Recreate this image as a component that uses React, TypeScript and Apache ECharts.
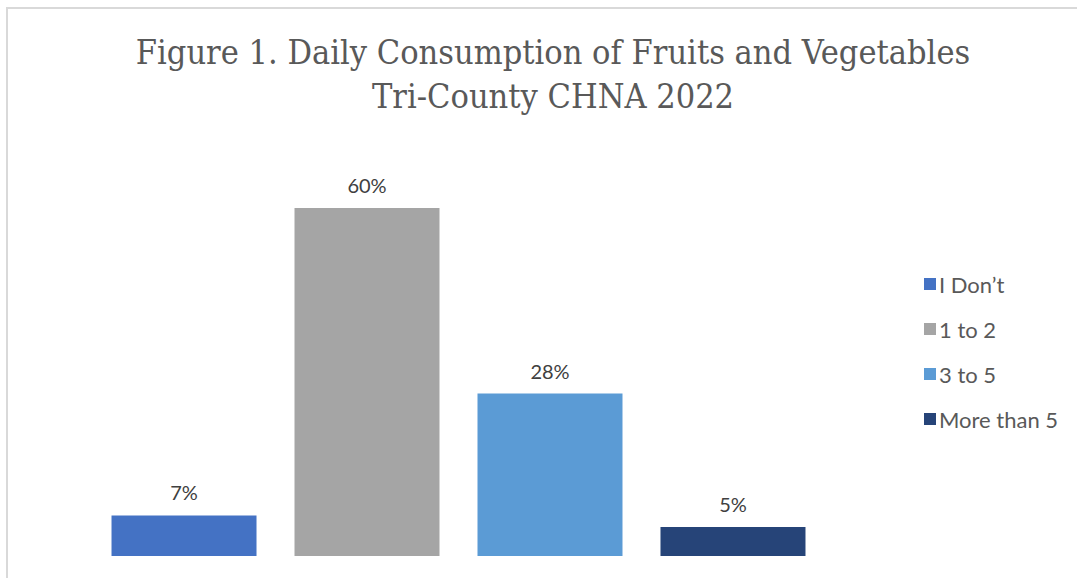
import React, { useEffect, useRef } from "react";
import * as echarts from "echarts";

const categories = ["Daily Consumption"];
const seriesNames = ["I Don’t", "1 to 2", "3 to 5", "More than 5"];
const seriesValues = [7, 60, 28, 5];
const seriesColors = ["#4472C4", "#A5A5A5", "#5B9BD5", "#264478"];

export default function App() {
  const ref = useRef<HTMLDivElement>(null);
  useEffect(() => {
    if (!ref.current) return;
    const chart = echarts.init(ref.current, undefined, { renderer: "svg" });
    chart.setOption({
      animation: false,
      backgroundColor: "#ffffff",
      title: {
        text: "Figure 1. Daily Consumption of Fruits and Vegetables\nTri-County CHNA 2022",
        left: 548,
        textAlign: "center",
        top: 25,
        textStyle: {
          fontFamily: "'DejaVu Serif Condensed', 'Liberation Serif', serif",
          fontWeight: "normal",
          fontSize: 34,
          lineHeight: 44,
          color: "#595959",
        },
      },
      legend: {
        orient: "vertical",
        left: 919,
        top: 268,
        itemWidth: 12,
        itemHeight: 12,
        itemGap: 23,
        icon: "rect",
        textStyle: {
          fontFamily: "Lato, 'Open Sans', sans-serif",
          fontSize: 22,
          lineHeight: 20,
          color: "#595959",
          padding: [0, 0, 0, -2],
        },
        data: seriesNames,
      },
      grid: { left: 100, width: 717, bottom: 22, height: 406 },
      xAxis: {
        type: "category",
        data: categories,
        axisLine: { show: false },
        axisTick: { show: false },
        axisLabel: { show: false },
      },
      yAxis: {
        type: "value",
        min: 0,
        max: 70,
        show: false,
        splitLine: { show: false },
      },
      graphic: [
        {
          type: "polyline",
          shape: { points: [[7, 578], [7, 8], [1077, 8]] },
          style: { stroke: "#D9D9D9", lineWidth: 2, fill: "none" },
          silent: true,
        },
      ],
      series: seriesNames.map((name, i) => ({
        name,
        type: "bar",
        barWidth: 145,
        barGap: "26.2%",
        itemStyle: { color: seriesColors[i] },
        label: {
          show: true,
          position: "top",
          distance: 13,
          formatter: "{c}%",
          fontFamily: "Lato, 'Open Sans', sans-serif",
          fontSize: 20,
          color: "#404040",
        },
        data: [seriesValues[i]],
      })),
    });
    return () => chart.dispose();
  }, []);
  return <div ref={ref} style={{ width: 1077, height: 578, position: "absolute", left: 0, top: 0 }} />;
}
